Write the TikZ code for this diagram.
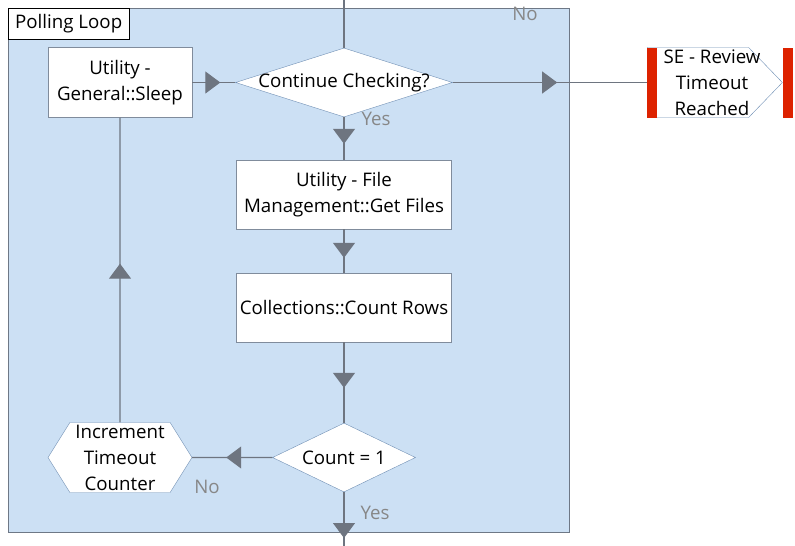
\documentclass[tikz,border=0pt]{standalone}
\usepackage{fontspec}
\setmainfont{Open Sans}
\usepackage{xcolor}
\usepackage{tikz}
\usetikzlibrary{arrows.meta}
\usetikzlibrary{positioning}
\usetikzlibrary{shapes.geometric, shapes.symbols}
\usetikzlibrary{decorations.markings}
\definecolor{loopblue}{RGB}{204,224,244}
\definecolor{loopedge}{RGB}{110,120,134}
\definecolor{flowgray}{RGB}{110,117,128}
\definecolor{boxedge}{RGB}{128,140,156}
\definecolor{diaedge}{RGB}{110,142,180}
\definecolor{labelgray}{RGB}{135,135,135}
\definecolor{sered}{RGB}{221,34,0}
\tikzstyle{process} = [rectangle, minimum width=215pt, minimum height=69pt, text centered, align=center, draw=boxedge, fill=white, inner sep=0pt, font=\fontsize{18.7}{26}\selectfont]
\tikzstyle{decision} = [diamond, shape aspect=3, minimum height=69pt, inner xsep=-30pt, inner ysep=-8pt, draw=diaedge, fill=white, font=\fontsize{18.7}{26}\selectfont]
\tikzstyle{signalbox} = [signal, minimum height=70pt, inner xsep=-30pt, inner ysep=-30pt, align=center, draw=diaedge, fill=white, font=\fontsize{18.7}{26}\selectfont]
\tikzstyle{flow} = [draw=flowgray, line width=1.2pt]
\tikzstyle{answer} = [text=labelgray, font=\fontsize{18.7}{20}\selectfont]
\tikzset{flowmark/.style={postaction={decorate}, decoration={markings, mark=at position #1 with {\arrow{Triangle[length=15pt, width=22pt]}}}}}

\begin{document}
\begin{tikzpicture}[x=1pt, y=-1pt, on grid]
    \useasboundingbox (0,0) rectangle (795,546);
    % the loop container
    \draw[fill=loopblue, draw=loopedge, line width=1pt] (8,8) rectangle (569,532);
    \node (title) [anchor=north west, draw=black, fill=white, minimum width=121pt, minimum height=31pt, font=\fontsize{18.7}{20}\selectfont] at (8,8) {Polling Loop};
    \coordinate (top) at (344,0);
    \coordinate (bottom) at (344,546);
    \node (check) [decision, minimum width=217pt] at (344,82.5) {Continue Checking?};
    \node (sleep) [process, minimum width=144pt, minimum height=70pt, left of=check, node distance=224pt] {Utility -\\General::Sleep};
    \node (getfiles) [process, below of=check, node distance=112pt] {Utility - File\\Management::Get Files};
    \node (countrows) [process, below of=getfiles, node distance=113pt] {Collections::Count Rows};
    \node (count) [decision, minimum width=143pt, below of=countrows, node distance=150pt] {Count = 1};
    \node (incr) [signalbox, signal to=east and west, signal pointer angle=116, minimum width=144pt, left of=count, node distance=224pt] {Increment\\Timeout\\Counter};
    \node (se) [signalbox, signal to=east, signal pointer angle=92, minimum width=135pt, right of=check, node distance=354pt,
        label={[align=center, font=\fontsize{18.7}{26}\selectfont, xshift=14pt]center:SE - Review\\Timeout\\Reached}] {};
    \fill[sered] (se.west) ++(0,-35) rectangle ++(10,70);
    \fill[sered] (se.east) ++(0,-35) rectangle ++(10,70);
    % connectors
    \draw[flow] (top) -- (check);
    \draw[flow, flowmark=-15pt] (sleep) -- (check);
    \draw[flow, flowmark=-90pt] (check) -- (se);
    \draw[flow, flowmark=-16pt] (check) -- (getfiles);
    \draw[flow, flowmark=-15pt] (getfiles) -- (countrows);
    \draw[flow, flowmark=-35pt] (countrows) -- (count);
    \draw[flow, flowmark=-34pt] (count) -- (incr);
    \draw[flow, flowmark=-146pt] (incr) -- (sleep);
    \draw[flow, flowmark=-8pt] (count) -- (bottom);
    % branch labels
    \node (yes1) [answer] at (376,119) {Yes};
    \node (no1) [answer] at (525,14) {No};
    \node (no2) [answer] at (207,487) {No};
    \node (yes2) [answer] at (375,513) {Yes};
\end{tikzpicture}
\end{document}
